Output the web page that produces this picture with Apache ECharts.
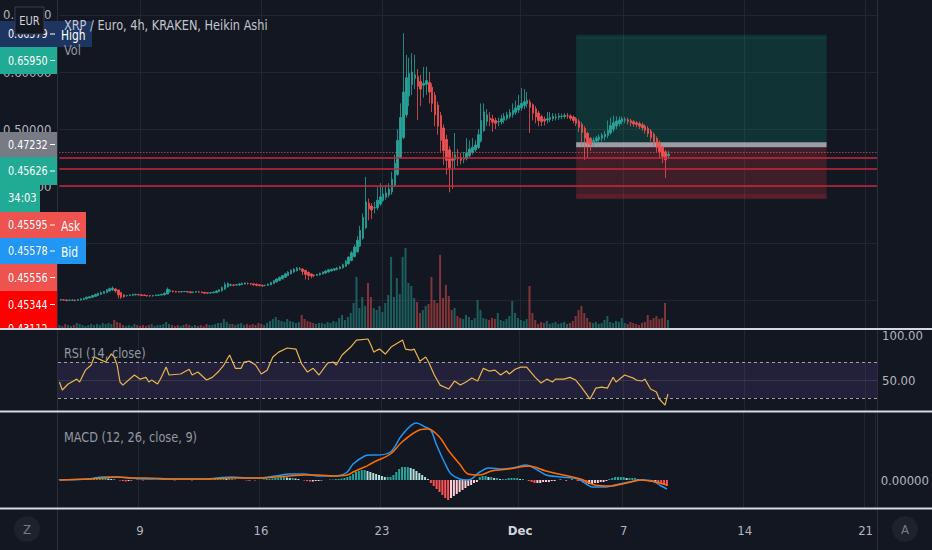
<!DOCTYPE html>
<html><head><meta charset="utf-8">
<script src="https://cdn.jsdelivr.net/npm/echarts@6/dist/echarts.min.js"></script>
<style>html,body{margin:0;padding:0;background:#131722;}#chart{width:932px;height:550px;}</style>
</head><body><div id="chart"></div>
<script>
// ---------- data ----------
const startTime = Date.UTC(2020, 10, 4, 8);   // first 4h candle
const candleHours = 4;
const slotCount = 284;                          // candles + empty future slots on the axis
const xTickDates = ['2020-11-09 00:00','2020-11-16 00:00','2020-11-23 00:00','2020-12-01 00:00','2020-12-07 00:00','2020-12-14 00:00','2020-12-21 00:00'];
const xTickLabels = ['9','16','23','Dec','7','14','21'];

const haOpen = [0.200,0.2005,0.2003,0.1996,0.1998,0.1999,0.1995,0.2002,0.2011,0.2021,0.2035,0.2048,0.2064,0.2082,0.2101,0.2116,0.2133,0.2157,0.2178,0.2194,
0.2177,0.2134,0.2092,0.2076,0.2078,0.2084,0.2092,0.2096,0.2093,0.2087,0.2083,0.2077,0.2073,0.2077,0.2083,0.2087,0.2093,0.2107,0.2148,0.2159,
0.2155,0.2147,0.2144,0.2147,0.2149,0.2144,0.2137,0.2139,0.2144,0.2142,0.2136,0.2128,0.2124,0.2127,0.2133,0.2147,0.2163,0.2192,0.2231,0.2261,
0.2265,0.2263,0.2266,0.2273,0.2282,0.2291,0.2290,0.2285,0.2278,0.2269,0.2260,0.2255,0.2258,0.2269,0.2290,0.2315,0.2343,0.2372,0.2401,0.2431,
0.2461,0.2491,0.2516,0.2538,0.2544,0.2522,0.2486,0.2458,0.2439,0.2435,0.2443,0.2457,0.2474,0.2492,0.2511,0.2526,0.2538,0.2549,0.2565,0.2593,
0.2637,0.2694,0.2762,0.2846,0.2948,0.3084,0.3267,0.370,0.365,0.3615,0.3618,0.3684,0.3747,0.3804,0.3842,0.3896,0.4008,0.4204,0.4502,0.4851,
0.5251,0.5576,0.5778,0.5889,0.5920,0.5835,0.5768,0.5784,0.5817,0.5734,0.5592,0.5421,0.5236,0.5018,0.4819,0.4635,0.4478,0.4464,0.4507,0.4494,
0.4472,0.4481,0.4531,0.4591,0.4636,0.4678,0.4789,0.4970,0.5135,0.5193,0.5177,0.5149,0.5125,0.5128,0.5154,0.5187,0.5219,0.5255,0.5293,0.5332,
0.5371,0.5411,0.5446,0.5473,0.5427,0.5354,0.5282,0.5216,0.5173,0.5157,0.5169,0.5185,0.5203,0.5207,0.5219,0.5220,0.5230,0.5230,0.5210,0.5180,
0.5140,0.5085,0.5013,0.4927,0.4839,0.4780,0.4790,0.4815,0.4838,0.4864,0.4887,0.4934,0.4997,0.5054,0.5097,0.5129,0.5155,0.5163,0.5147,0.5129,
0.5110,0.5095,0.5073,0.5047,0.5014,0.4967,0.4909,0.4835,0.4758,0.4679,0.4600,0.4530];
const haClose = [0.201,0.200,0.199,0.200,0.200,0.199,0.201,0.202,0.203,0.205,0.206,0.208,0.210,0.212,0.213,0.215,0.218,0.220,0.221,0.216,
0.209,0.205,0.206,0.208,0.209,0.210,0.210,0.209,0.208,0.208,0.207,0.207,0.208,0.209,0.209,0.210,0.212,0.219,0.217,0.215,
0.214,0.214,0.215,0.215,0.214,0.213,0.214,0.215,0.214,0.213,0.212,0.212,0.213,0.214,0.216,0.218,0.222,0.227,0.229,0.227,
0.226,0.227,0.228,0.229,0.230,0.229,0.228,0.227,0.226,0.225,0.225,0.226,0.228,0.231,0.234,0.237,0.240,0.243,0.246,0.249,
0.252,0.254,0.256,0.255,0.250,0.245,0.243,0.242,0.243,0.245,0.247,0.249,0.251,0.253,0.254,0.255,0.256,0.258,0.262,0.268,
0.275,0.283,0.293,0.305,0.322,0.345,0.372,0.360,0.358,0.362,0.375,0.381,0.386,0.388,0.395,0.412,0.440,0.480,0.520,0.565,
0.590,0.598,0.600,0.595,0.575,0.570,0.580,0.585,0.565,0.545,0.525,0.505,0.480,0.462,0.445,0.432,0.445,0.455,0.448,0.445,
0.449,0.458,0.465,0.468,0.472,0.490,0.515,0.530,0.525,0.516,0.512,0.510,0.513,0.518,0.522,0.525,0.529,0.533,0.537,0.541,
0.545,0.548,0.550,0.538,0.528,0.521,0.515,0.513,0.514,0.518,0.520,0.522,0.521,0.523,0.522,0.524,0.523,0.519,0.515,0.510,
0.503,0.494,0.484,0.475,0.472,0.480,0.484,0.486,0.489,0.491,0.498,0.506,0.511,0.514,0.516,0.518,0.517,0.513,0.511,0.509,
0.508,0.505,0.502,0.498,0.492,0.485,0.476,0.468,0.460,0.452,0.446,0.456];
const haLow = [0.199,0.199,0.198,0.199,0.199,0.198,0.199,0.199,0.200,0.201,0.203,0.204,0.206,0.207,0.209,0.211,0.212,0.215,0.216,0.213,
0.203,0.202,0.204,0.206,0.207,0.207,0.208,0.208,0.207,0.207,0.206,0.206,0.206,0.207,0.207,0.208,0.208,0.210,0.213,0.213,
0.213,0.213,0.213,0.214,0.213,0.212,0.212,0.213,0.213,0.212,0.211,0.211,0.211,0.212,0.212,0.214,0.215,0.218,0.222,0.224,
0.224,0.225,0.225,0.226,0.227,0.227,0.226,0.225,0.224,0.224,0.223,0.224,0.225,0.226,0.228,0.231,0.233,0.236,0.239,0.242,
0.245,0.248,0.250,0.252,0.244,0.236,0.235,0.238,0.240,0.242,0.243,0.245,0.246,0.248,0.250,0.251,0.252,0.254,0.255,0.258,
0.262,0.268,0.275,0.283,0.293,0.306,0.325,0.340,0.342,0.352,0.358,0.365,0.372,0.376,0.380,0.385,0.398,0.418,0.448,0.482,
0.520,0.540,0.560,0.570,0.516,0.540,0.555,0.560,0.545,0.530,0.505,0.490,0.460,0.437,0.420,0.389,0.395,0.430,0.435,0.438,
0.440,0.445,0.450,0.455,0.460,0.465,0.476,0.495,0.505,0.505,0.495,0.500,0.505,0.508,0.510,0.515,0.518,0.520,0.525,0.528,
0.532,0.535,0.538,0.493,0.515,0.510,0.505,0.505,0.506,0.510,0.512,0.514,0.515,0.516,0.517,0.518,0.518,0.515,0.510,0.505,
0.495,0.470,0.446,0.450,0.462,0.470,0.474,0.476,0.478,0.480,0.484,0.490,0.495,0.500,0.505,0.508,0.510,0.508,0.505,0.504,
0.503,0.500,0.497,0.492,0.486,0.478,0.468,0.460,0.448,0.440,0.414,0.448];
const haHigh = [0.202,0.201,0.201,0.201,0.201,0.201,0.202,0.203,0.204,0.206,0.207,0.209,0.211,0.213,0.215,0.216,0.219,0.222,0.224,0.221,
0.218,0.214,0.210,0.209,0.210,0.211,0.211,0.211,0.210,0.210,0.209,0.209,0.209,0.210,0.210,0.211,0.213,0.222,0.219,0.217,
0.216,0.216,0.216,0.216,0.216,0.215,0.215,0.216,0.216,0.215,0.214,0.214,0.214,0.215,0.217,0.219,0.224,0.231,0.231,0.229,
0.228,0.228,0.230,0.231,0.231,0.231,0.230,0.229,0.229,0.228,0.227,0.227,0.229,0.232,0.235,0.238,0.241,0.244,0.248,0.251,
0.254,0.256,0.258,0.258,0.256,0.253,0.250,0.247,0.245,0.246,0.248,0.250,0.252,0.254,0.255,0.256,0.258,0.260,0.264,0.270,
0.277,0.286,0.297,0.312,0.330,0.352,0.416,0.378,0.370,0.372,0.398,0.405,0.400,0.402,0.405,0.425,0.455,0.500,0.545,0.668,
0.630,0.625,0.633,0.630,0.605,0.595,0.609,0.609,0.600,0.580,0.565,0.548,0.530,0.508,0.490,0.470,0.460,0.493,0.465,0.458,
0.460,0.484,0.480,0.484,0.480,0.500,0.545,0.545,0.535,0.530,0.525,0.520,0.520,0.525,0.528,0.530,0.535,0.545,0.550,0.560,
0.572,0.570,0.565,0.552,0.545,0.540,0.532,0.525,0.522,0.530,0.530,0.528,0.527,0.528,0.527,0.528,0.528,0.526,0.524,0.521,
0.517,0.512,0.505,0.495,0.486,0.485,0.488,0.490,0.493,0.497,0.515,0.520,0.523,0.522,0.522,0.522,0.521,0.520,0.518,0.516,
0.514,0.513,0.511,0.508,0.505,0.500,0.494,0.487,0.480,0.472,0.463,0.462];
const volume = [0.3,0.2,0.4,0.3,0.2,0.3,0.5,0.4,0.3,0.2,0.3,0.4,0.3,0.4,0.3,0.5,0.4,
0.5,0.4,0.8,0.6,0.5,0.3,
0.2,0.3,0.2,0.4,0.3,0.2,0.3,0.2,0.3,0.4,0.2,0.3,0.3,0.4,0.6,0.4,0.3,0.2,0.3,0.2,0.3,0.4,0.3,0.2,0.3,0.2,0.3,0.2,0.4,0.3,0.3,0.4,0.5,
0.5,0.9,0.6,0.4,0.4,
0.3,0.4,0.5,0.3,0.4,0.3,0.4,0.3,0.5,0.4,0.3,
0.5,0.7,0.9,1.1,0.8,0.7,0.6,0.9,0.7,0.6,0.5,0.6,
1.3,0.9,0.7,0.6,0.5,0.4,0.5,
0.5,0.4,0.6,0.5,0.7,0.6,1.0,1.3,0.8,1.1,
1.5,2.5,5.1,2.0,3.1,2.2,4.5,3.1,2.0,1.8,2.2,1.6,2.5,3.3,7.1,3.1,5.0,3.4,7.1,8.0,4.5,4.2,3.0,2.6,1.5,1.8,2.2,2.4,5.1,2.8,2.5,7.3,3.0,4.3,3.2,1.8,2.0,1.2,
1.0,0.9,1.3,1.1,0.8,1.0,
2.8,1.8,1.0,0.9,0.8,1.0,0.9,1.5,0.8,0.7,0.9,1.2,2.7,1.5,1.0,0.8,0.7,0.9,4.2,1.5,0.8,
0.4,0.6,0.5,0.7,0.4,0.5,0.6,0.4,0.5,0.6,0.4,0.5,0.7,
1.2,1.8,2.2,1.5,1.0,0.6,
0.5,0.6,0.4,0.5,0.8,
1.2,0.6,0.5,0.7,0.6,1.0,
0.5,0.4,0.6,0.5,0.4,0.3,0.5,0.6,
1.3,0.8,1.0,1.2,0.9,1.0,2.5,0.8];
const rsiPoints = [[0,47.8],[1,38.9],[3,45.6],[6,51],[7,47.8],[9,61],[11,66.7],[12,75.6],[14,73],[16,70],[18,79],[19,75.6],[20,66.7],[21,47.8],[22,44.4],[24,50],[26,55.6],[28,51],[30,53],[31,47.8],[32,50],[34,45.6],[35,51],[37,64.4],[38,55.6],[42,56.7],[45,62],[46,55.6],[48,58.9],[51,50],[53,53],[55,58.9],[57,66.7],[59,77.8],[61,63],[63,63],[64,70],[66,71],[68,66.7],[70,56.7],[72,61],[74,75.6],[76,81],[79,85.6],[82,84.4],[84,67.8],[86,58.9],[88,63],[90,55.6],[93,68.9],[95,70],[96,66.7],[98,77.8],[101,86.7],[103,94.4],
[107,95.6],[108,88.9],[109,81],[110,83],[111,84.4],[113,78.9],[115,86.7],[119,94.4],[120,84.4],[122,83.3],[123,84.4],[125,71],[127,75.6],[128,70],[130,55.6],[132,44.4],[135,40],[137,48.9],[139,44.4],[141,47.8],[143,52.2],[145,48.9],[147,63],[149,60],[151,61],[153,55.6],[155,60],[156,56.7],[158,62],[160,64.4],[162,64.4],[165,53],[167,46.7],[169,51],[171,47.8],[172,51],[175,51],[177,53],[179,50],[181,42.2],[184,28.9],[186,41],[188,42.2],[190,41],[192,53],[193,47.8],[196,55.6],[199,52.2],[200,50],[202,48.9],[203,51],[205,40],[207,36.7],[208,28.9],[210,22.2],[211,34.4]];
const macdPoints = [[0,0.000],[10,0.001],[15,0.003],[20,0.003],[25,0.002],[30,0.001],[40,0.001],[50,0.001],[55,0.002],[60,0.003],[65,0.002],[70,0.002],[75,0.004],[80,0.006],[85,0.006],[90,0.004],[95,0.004],[98,0.005],[100,0.008],[102,0.016],[106,0.024],[108,0.025],[110,0.025],[115,0.028],[119,0.045],[124,0.057],[127,0.053],[129,0.050],[131,0.035],[134,0.016],[136,0.006],[139,0.001],[142,0.000],[146,0.008],[149,0.012],[154,0.011],[159,0.013],[162,0.015],[166,0.010],[169,0.005],[174,0.003],[180,0.001],[183,-0.004],[185,-0.007],[190,-0.007],[193,-0.005],[198,-0.002],[202,0.000],[206,-0.001],[209,-0.006],[211,-0.009]];
const signalPoints = [[0,0.000],[10,0.001],[15,0.002],[20,0.003],[25,0.002],[30,0.002],[40,0.001],[50,0.001],[60,0.002],[70,0.002],[75,0.003],[80,0.004],[85,0.005],[90,0.005],[95,0.004],[100,0.005],[102,0.008],[106,0.013],[108,0.016],[110,0.019],[115,0.026],[119,0.038],[125,0.050],[128,0.051],[132,0.043],[135,0.030],[139,0.016],[142,0.006],[146,0.005],[150,0.009],[156,0.011],[163,0.014],[169,0.009],[175,0.005],[181,0.001],[186,-0.005],[191,-0.006],[197,-0.003],[202,0.000],[207,-0.002],[211,-0.005]];
const macdHist = [0.0005,0.0005,0.001,0.0005,0,0.0005,0.001,0.001,0.0005,0.0005,0.001,0.0005,0.001,
0.001,0.0015,0.002,0.002,0.0015,0.001,0.0005,0,-0.0005,
-0.001,-0.0015,-0.001,-0.0005,
0,0.0005,0,-0.0005,0,0.0005,0.0005,0,0,0.0005,0.001,0.001,0.0005,0,-0.0005,0,0,0.0005,0,0,-0.0005,0,0,0.0005,0.0005,0,0.0005,0.0005,
0.001,0.001,0.0015,0.0015,0.001,0.001,0.0005,0.0005,0,0,
0,-0.0005,-0.0005,0,-0.0005,0,0,0.0005,0.001,0.001,0.0015,
0.002,0.0025,0.003,0.003,0.0025,0.002,0.002,0.0015,0.001,0,
-0.0005,-0.001,-0.0015,-0.0015,-0.001,-0.001,-0.0005,0,0,0.0005,
0.0005,0.001,0.001,0.0015,0.002,
0.003,0.004,0.006,0.008,0.009,0.010,0.010,0.009,0.008,0.007,
0.006,0.005,0.004,0.003,0.003,0.003,
0.005,0.008,0.011,0.013,
0.013,0.013,0.012,0.011,
0.009,0.007,0.005,0.003,0.001,
-0.003,-0.006,-0.009,-0.012,-0.015,-0.018,-0.020,
-0.018,-0.016,-0.014,-0.012,-0.010,-0.008,-0.006,-0.005,-0.003,-0.002,
0.003,0.004,0.004,0.003,0.003,0.002,0.002,
0.001,0.001,0.001,0.002,0.002,0.002,0.002,0.001,0.001,0,-0.001,
-0.002,-0.003,-0.003,-0.003,-0.002,-0.002,-0.002,-0.001,-0.001,
0,0.001,0,-0.001,0,0.001,0,-0.001,-0.001,
-0.003,-0.004,-0.004,-0.004,-0.003,-0.003,-0.002,-0.002,-0.001,0.001,
0.002,0.003,0.003,0.003,0.003,0.002,0.002,0.002,
0.002,0.001,0.001,0.001,0,
-0.001,-0.002,-0.002,-0.003,-0.004,-0.005,-0.006];

const priceGridTicks = [0.2, 0.3, 0.4, 0.5, 0.6, 0.7];
const priceLabelTicks = [0.4, 0.5, 0.6, 0.7];   // 0.2 / 0.3 labels are fully hidden behind the price tags
const rsiTicks = [50, 100];
const macdTicks = [0];
const lastPrice = 0.45626;
const levelLines = [0.45344, 0.43112, 0.4005];
const positionStart = '2020-12-04 04:00';
const positionEnd = '2020-12-18 16:00';
const targetPrice = 0.6655;
const entryPrice = 0.47232;
const stopPrice = 0.3770;
const tagPrices = ['0.66579','0.65950','0.47232','0.45626','0.45595','0.45578','0.45556','0.45344','0.43112'];
const countdown = '34:03';

// ---------- build ----------
function fmt(d){const p=n=>String(n).padStart(2,'0');return d.getUTCFullYear()+'-'+p(d.getUTCMonth()+1)+'-'+p(d.getUTCDate())+' '+p(d.getUTCHours())+':00';}
const categories = [];
for (let i = 0; i < slotCount; i++) categories.push(fmt(new Date(startTime + i*candleHours*3600e3)));
const tickSet = new Set(xTickDates);
const labelMap = {}; xTickDates.forEach((d,i)=>labelMap[d]=xTickLabels[i]);

const FONT = "'DejaVu Sans Condensed', 'Liberation Sans', sans-serif";
const GRID_COLOR = '#222631';
const LABEL_COLOR = '#b2b5be';
const UP = '#26a69a', DOWN = '#ef5350';

const candleData = haOpen.map((o,i)=>[o, haClose[i], haLow[i], haHigh[i]]);
const volData = volume.map((v,i)=>({value:v, itemStyle:{color: haClose[i]>=haOpen[i] ? 'rgba(38,166,154,0.5)' : 'rgba(239,83,80,0.5)'}}));
const histData = macdHist.map((v,i)=>{const prev = i ? macdHist[i-1] : 0; let c;
  if (v >= 0) c = v >= prev ? '#26a69a' : '#b2dfdb'; else c = v < prev ? '#ff5252' : '#ffcdd2';
  return {value:v, itemStyle:{color:c}};});

const L = 58, R = 55;
function makeX(gridIndex, showLabel){
  return {type:'category', gridIndex, data:categories, boundaryGap:true,
    axisLine:{show:false}, axisTick:{show:false},
    axisLabel:{show:showLabel, interval:(i,v)=>tickSet.has(v), formatter:v=> v==='2020-12-01 00:00' ? '{m|'+labelMap[v]+'}' : (labelMap[v]||''),
      color:LABEL_COLOR, fontSize:13, fontFamily:FONT, margin:16,
      rich:{m:{color:'#d1d4dc', fontWeight:'bold', fontSize:13, fontFamily:FONT}}},
    splitLine:{show:true, interval:(i,v)=>tickSet.has(v), lineStyle:{color:GRID_COLOR, width:1}}};
}

function rect(x,y,w,h,fill,extra){return Object.assign({type:'rect',shape:{x,y,width:w,height:h},style:{fill},z:100,silent:true},extra||{});}
function txt(x,y,text,color,size,align,z,sx){return {type:'text',x,y,z:z||101,silent:true,scaleX:sx||1,
  style:{text, fill:color||'#ffffff', font:(size||13)+'px '+FONT, textAlign:align||'left', align:align||'left', textVerticalAlign:'middle', verticalAlign:'middle'}};}
function hline(x1,x2,y,color,w,z){return {type:'line',shape:{x1,y1:y,x2,y2:y},style:{stroke:color,lineWidth:w||1},z:z||101,silent:true};}
function vline(x,y1,y2,color,w,z){return {type:'line',shape:{x1:x,y1,x2:x,y2},style:{stroke:color,lineWidth:w||1},z:z||99,silent:true};}

// price tag layout (annotation labels stacked at the left axis)
const tagLayout = [
  {y:21,h:26,fill:'#1c3561',extra:'High',ew:35},
  {y:47,h:27,fill:'#22ab94'},
  {y:132,h:25,fill:'#787b86'},
  {y:157,h:28,fill:'#22ab94'},
  {y:212,h:26,fill:'#ef5350',extra:'Ask',ew:29},
  {y:238,h:26,fill:'#2196f3',extra:'Bid',ew:29},
  {y:264,h:27,fill:'#ef5350'},
  {y:291,h:27,fill:'#ff0000'},
  {y:318,h:14,fill:'#ff0000',textY:329}
];
const graphics = [];
tagLayout.forEach((t,i)=>{
  graphics.push(rect(0,t.y,57,t.h,t.fill));
  const ty = t.textY || (t.y + t.h/2);
  graphics.push(txt(8,ty,tagPrices[i],'#ffffff',13,'left',101,0.82));
  graphics.push(hline(50,55,ty,'#ffffff',1));
  if (t.extra){ graphics.push(rect(57,t.y,t.ew,t.h,t.fill)); graphics.push(txt(61,ty+1,t.extra,'#ffffff',14,'left',101,0.85)); }
});
graphics.push(rect(0,185,40,27,'#22ab94'));
graphics.push(txt(8,198,countdown,'#ffffff',13,'left',101,0.85));
graphics.push(rect(15,7,29,27,'#131722',{style:{fill:'#131722',stroke:'#3a3e4a',lineWidth:1},z:103}));
graphics.push(txt(29.5,20.5,'EUR','#d1d4dc',13,'center',104,0.85));
graphics.push(txt(64,25,'XRP / Euro, 4h, KRAKEN, Heikin Ashi','#c3c6ce',14,'left',105,0.9));
graphics.push(txt(64,50,'Vol','#9598a1',14,'left',101,0.9));
graphics.push(txt(64,353,'RSI (14, close)','#9598a1',14,'left',101,0.9));
graphics.push(txt(64,437,'MACD (12, 26, close, 9)','#9598a1',14,'left',101,0.9));
graphics.push(rect(0,329,57,18,'#131722',{z:102}));
graphics.push(vline(57.5,0,550,'#2a2e39',1));
graphics.push(vline(877.5,0,550,'#2a2e39',1));
graphics.push(hline(0,932,329,'#d6d9e0',2,110));
graphics.push(hline(0,932,411.5,'#d6d9e0',2,110));
graphics.push(hline(0,932,508.5,'#d6d9e0',2,110));
graphics.push({type:'circle',shape:{cx:27,cy:529,r:13},style:{fill:'#1e222d'},z:100,silent:true});
graphics.push(txt(27,529,'Z','#787b86',13,'center'));
graphics.push({type:'circle',shape:{cx:905,cy:529,r:13},style:{fill:'#1e222d'},z:100,silent:true});
graphics.push(txt(905,529,'A','#787b86',13,'center'));

const chart = echarts.init(document.getElementById('chart'), null, {renderer:'svg'});
chart.setOption({
  backgroundColor:'#131722',
  animation:false,
  grid:[
    {left:L, right:R, top:0, height:328},
    {left:L, right:R, top:0, height:328},
    {left:L, right:R, top:330, height:81},
    {left:L, right:R, top:412, height:96}
  ],
  xAxis:[makeX(0,false), Object.assign(makeX(1,false),{splitLine:{show:false}}), makeX(2,false), makeX(3,true)],
  yAxis:[
    {type:'value', gridIndex:0, position:'left', min:0.151, max:0.7263,
      axisLine:{show:false}, axisTick:{show:false, customValues:priceGridTicks},
      axisLabel:{customValues:priceLabelTicks, formatter:v=>v.toFixed(5), color:LABEL_COLOR, fontSize:13, fontFamily:FONT, margin:8},
      splitLine:{show:true, lineStyle:{color:GRID_COLOR}}},
    {type:'value', gridIndex:1, min:0, max:32.8, show:false, splitLine:{show:false}},
    {type:'value', gridIndex:2, position:'right', min:15.6, max:105.6,
      axisLine:{show:false}, axisTick:{show:false},
      axisLabel:{customValues:rsiTicks, formatter:v=>v.toFixed(2), color:LABEL_COLOR, fontSize:13, fontFamily:FONT, margin:5},
      splitLine:{show:false}},
    {type:'value', gridIndex:3, position:'right', min:-0.028, max:0.068,
      axisLine:{show:false}, axisTick:{show:false},
      axisLabel:{customValues:macdTicks, formatter:v=>v.toFixed(5), color:LABEL_COLOR, fontSize:13, fontFamily:FONT, margin:5},
      splitLine:{show:false}}
  ],
  series:[
    {type:'bar', name:'Vol', xAxisIndex:1, yAxisIndex:1, data:volData, barWidth:2, z:1, silent:true},
    {type:'line', name:'position', xAxisIndex:0, yAxisIndex:0, data:haClose, symbol:'none', lineStyle:{opacity:0}, z:2, silent:true,
      markArea:{silent:true, data:[
        [{xAxis:positionStart, yAxis:targetPrice, itemStyle:{color:'rgba(8,153,129,0.22)'}},{xAxis:positionEnd, yAxis:entryPrice+0.0045}],
        [{xAxis:positionStart, yAxis:targetPrice-0.005, itemStyle:{color:'rgba(38,166,154,0.10)'}},{xAxis:positionEnd, yAxis:targetPrice-0.0075}],
        [{xAxis:positionStart, yAxis:entryPrice+0.0045, itemStyle:{color:'rgba(190,193,200,0.8)'}},{xAxis:positionEnd, yAxis:entryPrice-0.0045}],
        [{xAxis:positionStart, yAxis:entryPrice-0.0045, itemStyle:{color:'rgba(242,54,69,0.2)'}},{xAxis:positionEnd, yAxis:stopPrice}],
        [{xAxis:positionStart, yAxis:stopPrice+0.009, itemStyle:{color:'rgba(242,54,69,0.15)'}},{xAxis:positionEnd, yAxis:stopPrice+0.002}]
      ]}},
    {type:'candlestick', name:'XRP/EUR', xAxisIndex:0, yAxisIndex:0, data:candleData, barWidth:2, z:3, silent:true,
      itemStyle:{color:UP, color0:DOWN, borderColor:UP, borderColor0:DOWN, borderWidth:0.8},
      markLine:{symbol:['none','none'], silent:true, label:{show:false},
        data:[{yAxis:lastPrice, lineStyle:{color:'#ef5350', type:[1,2], width:1}}].concat(
          levelLines.map(v=>({yAxis:v, lineStyle:{color:'#c9283a', type:'solid', width:1.5}})))}},
    {type:'line', name:'RSI', xAxisIndex:2, yAxisIndex:2, data:rsiPoints, symbol:'none', lineStyle:{color:'#eab54c', width:1.2}, z:3, silent:true,
      markArea:{silent:true, itemStyle:{color:'rgba(126,87,194,0.15)'}, data:[[{yAxis:30},{yAxis:70}]]},
      markLine:{symbol:['none','none'], silent:true, label:{show:false}, data:[
        {yAxis:70, lineStyle:{color:'rgba(200,203,210,0.75)', type:[3,3], width:1}},
        {yAxis:30, lineStyle:{color:'rgba(200,203,210,0.75)', type:[3,3], width:1}},
        {yAxis:50, lineStyle:{color:'rgba(120,123,134,0.25)', type:'solid', width:1}}]}},
    {type:'bar', name:'Histogram', xAxisIndex:3, yAxisIndex:3, data:histData, barWidth:2, z:2, silent:true},
    {type:'line', name:'MACD', xAxisIndex:3, yAxisIndex:3, data:macdPoints, symbol:'none', smooth:0.35, lineStyle:{color:'#2196f3', width:1.5}, z:3, silent:true},
    {type:'line', name:'Signal', xAxisIndex:3, yAxisIndex:3, data:signalPoints, symbol:'none', smooth:0.35, lineStyle:{color:'#ff6d00', width:1.5}, z:4, silent:true}
  ],
  graphic:graphics
});
</script></body></html>
